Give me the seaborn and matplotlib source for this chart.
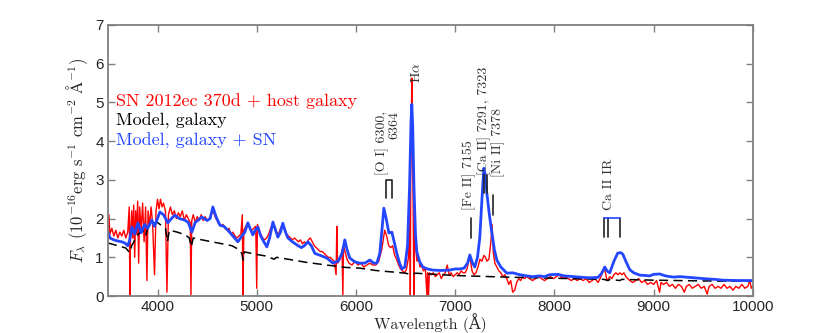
import numpy as np
import pandas as pd
import seaborn as sns
import matplotlib
matplotlib.use('Agg')
import matplotlib.pyplot as plt

obs_wave = [3500, 3510, 3520, 3540, 3560, 3580, 3600, 3620, 3640, 3660, 3680, 3700, 3715, 3722, 3728,
            3740, 3750, 3760, 3770, 3780, 3790, 3800, 3810, 3820, 3835, 3850, 3865, 3880, 3893, 3905,
            3920, 3935, 3950, 3970, 3985, 4000, 4015, 4030, 4045, 4060, 4080, 4095, 4110, 4130, 4150,
            4170, 4190, 4210, 4230, 4250, 4270, 4290, 4310, 4330, 4337, 4345, 4360, 4380, 4400, 4420,
            4440, 4460, 4480, 4500, 4520, 4540, 4560, 4580, 4600, 4620, 4640, 4660, 4680, 4700, 4720,
            4740, 4760, 4780, 4800, 4820, 4840, 4855, 4861, 4870, 4890, 4910, 4930, 4950, 4970, 4990,
            5000, 5007, 5020, 5040, 5060, 5080, 5100, 5120, 5140, 5160, 5180, 5200, 5220, 5240, 5260,
            5280, 5300, 5320, 5340, 5360, 5380, 5400, 5420, 5440, 5460, 5480, 5500, 5520, 5540, 5560,
            5580, 5600, 5620, 5640, 5660, 5680, 5700, 5720, 5740, 5760, 5780, 5800, 5807, 5815, 5840,
            5860, 5868, 5875, 5890, 5910, 5930, 5960, 5990, 6020, 6050, 6080, 6110, 6140, 6170, 6200,
            6230, 6260, 6290, 6310, 6330, 6350, 6370, 6390, 6410, 6430, 6450, 6470, 6490, 6510, 6530,
            6545, 6548, 6552, 6558, 6563, 6568, 6575, 6584, 6590, 6600, 6615, 6630, 6645, 6660, 6680,
            6700, 6716, 6722, 6731, 6740, 6760, 6780, 6800, 6820, 6840, 6860, 6880, 6900, 6920, 6940,
            6960, 6980, 7000, 7020, 7040, 7060, 7080, 7100, 7120, 7140, 7155, 7170, 7190, 7210, 7230,
            7250, 7270, 7290, 7305, 7320, 7340, 7360, 7372, 7385, 7400, 7420, 7440, 7460, 7480, 7500,
            7520, 7540, 7560, 7580, 7600, 7620, 7640, 7660, 7680, 7700, 7720, 7750, 7780, 7810, 7840,
            7870, 7900, 7930, 7960, 7990, 8020, 8050, 8080, 8110, 8140, 8170, 8200, 8230, 8260, 8290,
            8320, 8350, 8380, 8410, 8440, 8470, 8500, 8515, 8530, 8545, 8560, 8580, 8600, 8620, 8640,
            8660, 8680, 8700, 8720, 8740, 8760, 8790, 8820, 8850, 8880, 8910, 8940, 8970, 9000, 9030,
            9060, 9075, 9100, 9130, 9160, 9190, 9220, 9250, 9280, 9310, 9330, 9360, 9390, 9420, 9450,
            9480, 9510, 9540, 9560, 9590, 9620, 9650, 9680, 9710, 9740, 9770, 9800, 9830, 9860, 9890,
            9920, 9950, 9970, 9985, 10000]
obs_flux = [1.75, 2.1, 1.6, 1.75, 1.55, 1.7, 1.5, 1.65, 1.55, 1.7, 1.5, 1.65, 2.3, 0.0, 1.6,
            2.2, 1.5, 2.35, 1.0, 2.2, 1.6, 2.45, 0.85, 2.3, 1.7, 2.4, 1.4, 2.3, 0.4, 2.2,
            1.8, 2.3, 1.9, 0.55, 2.2, 2.5, 2.25, 2.5, 2.3, 2.4, 2.2, 0.1, 2.1, 2.3, 2.1,
            2.2, 2.0, 2.15, 2.05, 2.2, 1.95, 2.1, 2.0, 1.9, 0.0, 1.95, 2.1, 1.9, 2.05, 1.95,
            2.1, 1.95, 2.05, 1.95, 2.0, 2.1, 2.2, 2.05, 1.95, 1.85, 1.8, 1.85, 1.75, 1.7, 1.75,
            1.6, 1.65, 1.55, 1.5, 1.55, 1.6, 2.1, 0.0, 1.7, 1.8, 1.9, 1.75, 1.7, 1.75, 1.8,
            0.2, 1.85, 1.75, 1.6, 1.5, 1.45, 1.5, 1.6, 1.75, 1.85, 1.8, 1.65, 1.6, 1.75, 1.85,
            1.75, 1.6, 1.55, 1.5, 1.45, 1.5, 1.45, 1.4, 1.45, 1.35, 1.4, 1.35, 1.45, 1.5, 1.4,
            1.3, 1.25, 1.2, 1.15, 1.15, 1.1, 1.05, 1.0, 1.0, 0.95, 0.9, 0.55, 1.8, 0.85, 0.95,
            1.2, 0.0, 1.3, 1.15, 0.95, 0.85, 0.8, 0.9, 0.8, 0.85, 0.75, 0.8, 0.85, 0.8, 0.8,
            0.9, 1.2, 1.7, 1.55, 1.3, 1.25, 1.3, 1.05, 0.95, 0.8, 0.7, 0.65, 0.6, 0.7, 1.0,
            2.5, 0.0, 3.0, 4.3, 5.63, 4.0, 2.8, 0.0, 1.8, 1.3, 0.9, 1.0, 0.75, 0.8, 0.65,
            0.7, 0.0, 0.6, 0.0, 0.6, 0.55, 0.6, 0.5, 0.55, 0.6, 0.45, 0.55, 0.6, 0.8, 0.55,
            0.6, 0.5, 0.55, 0.6, 0.55, 0.65, 0.6, 0.6, 0.7, 0.95, 0.9, 0.65, 0.55, 0.6, 0.75,
            0.95, 0.9, 1.05, 1.0, 0.9, 0.95, 1.4, 1.85, 1.1, 0.85, 0.75, 0.65, 0.6, 0.5, 0.55,
            0.45, 0.3, 0.4, 0.1, 0.15, 0.35, 0.45, 0.4, 0.5, 0.45, 0.5, 0.45, 0.4, 0.45, 0.5,
            0.45, 0.4, 0.45, 0.5, 0.45, 0.5, 0.55, 0.45, 0.5, 0.45, 0.4, 0.45, 0.4, 0.45, 0.4,
            0.45, 0.35, 0.4, 0.45, 0.35, 0.5, 0.72, 0.6, 0.4, 0.45, 0.5, 0.45, 0.55, 0.6, 0.55,
            0.6, 0.55, 0.6, 0.5, 0.45, 0.4, 0.35, 0.4, 0.45, 0.35, 0.4, 0.3, 0.35, 0.3, 0.4,
            0.1, 0.35, 0.3, 0.35, 0.25, 0.3, 0.2, 0.3, 0.25, 0.1, 0.25, 0.3, 0.2, 0.25, 0.3,
            0.2, 0.25, 0.05, 0.25, 0.3, 0.2, 0.25, 0.2, 0.3, 0.2, 0.25, 0.15, 0.25, 0.2, 0.3,
            0.2, 0.25, 0.4, 0.2, 0.25]

# galaxy model (dashed)
gal_wave = [3500, 3600, 3680, 3720, 3740, 3800, 3850, 3880, 3900, 3950, 3974, 4000, 4050, 4080, 4100,
            4120, 4200, 4280, 4320, 4340, 4360, 4450, 4550, 4650, 4750, 4820, 4850, 4862, 4875, 4950,
            5030, 5100, 5175, 5200, 5364, 5500, 5707, 5890, 6039, 6200, 6372, 6500, 6563, 6600, 7000,
            7500, 8000, 8500, 8540, 8560, 8660, 8680, 9000, 9500, 10000]
gal_flux = [1.37, 1.3, 1.24, 1.12, 1.3, 1.58, 1.7, 1.55, 1.75, 1.85, 1.89, 1.9, 1.8, 1.75, 1.4,
            1.7, 1.65, 1.58, 1.5, 1.27, 1.5, 1.45, 1.4, 1.35, 1.3, 1.2, 1.1, 0.93, 1.14, 1.1,
            1.06, 1.03, 0.95, 1.0, 0.93, 0.87, 0.8, 0.74, 0.72, 0.66, 0.62, 0.59, 0.55, 0.59, 0.53,
            0.49, 0.46, 0.43, 0.4, 0.43, 0.4, 0.43, 0.41, 0.39, 0.38]

# galaxy + SN model (blue)
mod_wave = [3500, 3520, 3560, 3600, 3640, 3670, 3700, 3720, 3742, 3770, 3802, 3835, 3870, 3900, 3943,
            3970, 4024, 4060, 4105, 4140, 4175, 4220, 4276, 4310, 4346, 4380, 4447, 4500, 4530, 4558,
            4590, 4629, 4670, 4709, 4760, 4810, 4850, 4880, 4911, 4940, 4961, 4985, 5012, 5040, 5072,
            5102, 5130, 5163, 5190, 5213, 5240, 5263, 5290, 5314, 5360, 5405, 5450, 5480, 5516, 5550,
            5586, 5640, 5707, 5767, 5820, 5860, 5888, 5910, 5938, 5990, 6039, 6090, 6140, 6180, 6211,
            6240, 6262, 6281, 6305, 6332, 6362, 6390, 6412, 6440, 6463, 6493, 6520, 6540, 6555, 6563,
            6572, 6585, 6600, 6613, 6640, 6674, 6720, 6775, 6850, 6946, 7000, 7047, 7090, 7125, 7148,
            7175, 7198, 7225, 7248, 7270, 7289, 7305, 7319, 7345, 7370, 7395, 7420, 7460, 7521, 7580,
            7652, 7720, 7783, 7850, 7900, 7950, 8035, 8100, 8200, 8287, 8350, 8438, 8475, 8508, 8530,
            8558, 8600, 8639, 8670, 8690, 8720, 8760, 8800, 8860, 8920, 8961, 9000, 9062, 9120, 9195,
            9270, 9360, 9450, 9550, 9620, 9700, 9850, 10000]
mod_flux = [1.65, 1.5, 1.45, 1.42, 1.4, 1.37, 1.3, 1.45, 1.78, 1.6, 1.89, 1.63, 1.85, 1.75, 1.96,
            1.8, 2.17, 2.1, 1.89, 2.0, 2.09, 2.0, 1.96, 1.9, 1.65, 1.9, 2.04, 1.95, 2.0, 2.3,
            2.05, 1.83, 1.8, 1.7, 1.55, 1.4, 1.55, 1.65, 1.89, 1.7, 1.58, 1.7, 1.78, 1.55, 1.4,
            1.27, 1.5, 1.91, 1.7, 1.52, 1.65, 1.88, 1.65, 1.5, 1.4, 1.32, 1.25, 1.3, 1.4, 1.3,
            1.1, 1.05, 0.98, 0.85, 0.9, 1.1, 1.45, 1.2, 0.98, 0.88, 0.85, 0.85, 0.93, 0.85, 0.85,
            1.1, 1.7, 2.27, 2.0, 1.63, 1.65, 1.35, 1.1, 0.85, 0.7, 0.75, 1.3, 2.8, 4.5, 4.95,
            4.4, 2.8, 1.6, 1.15, 0.9, 0.75, 0.7, 0.67, 0.66, 0.67, 0.7, 0.7, 0.72, 0.85, 1.06,
            0.85, 0.75, 1.0, 1.5, 2.5, 3.3, 3.1, 2.66, 2.1, 1.63, 1.2, 0.93, 0.75, 0.59, 0.6,
            0.55, 0.52, 0.5, 0.52, 0.5, 0.55, 0.56, 0.52, 0.5, 0.48, 0.47, 0.48, 0.58, 0.75, 0.65,
            0.6, 0.9, 1.11, 1.12, 1.08, 0.9, 0.68, 0.6, 0.54, 0.53, 0.52, 0.56, 0.57, 0.52, 0.49,
            0.5, 0.48, 0.46, 0.44, 0.43, 0.41, 0.4, 0.4]

# line identifications (rest wavelengths)
oi_lines = [6300, 6364]
feii_line = 7155
caii_lines = [7291, 7323]
niii_line = 7378
cair_lines = [8498, 8542, 8662]

obs = pd.DataFrame({'wave': obs_wave, 'flux': obs_flux})
gal = pd.DataFrame({'wave': gal_wave, 'flux': gal_flux})
mod = pd.DataFrame({'wave': mod_wave, 'flux': mod_flux})

sns.set_style('white')
plt.rcParams['font.family'] = ['cmr10', 'DejaVu Serif']
plt.rcParams['mathtext.fontset'] = 'cm'
plt.rcParams['axes.unicode_minus'] = False

fig = plt.figure(figsize=(8.3, 3.33), dpi=100)
ax = fig.add_axes([0.130, 0.111, 0.777, 0.814])

blue = '#2346ff'
sns.lineplot(data=obs, x='wave', y='flux', ax=ax, color='red', lw=1.0, sort=False, estimator=None)
sns.lineplot(data=gal, x='wave', y='flux', ax=ax, color='black', lw=1.1, ls=(0, (6, 3.5)), sort=False, estimator=None)
sns.lineplot(data=mod, x='wave', y='flux', ax=ax, color=blue, lw=2.0, sort=False, estimator=None)

ax.set_xlim(3500, 10000)
ax.set_ylim(0, 7)
ax.set_xticks(range(4000, 10001, 1000))
ax.set_yticks(range(0, 8))
for lab in ax.get_xticklabels() + ax.get_yticklabels():
    lab.set_fontfamily('Liberation Sans')
    lab.set_fontsize(11)
ax.tick_params(direction='in', length=5, width=1, color='#808080', top=True, right=True,
               bottom=True, left=True, pad=3)
for sp in ax.spines.values():
    sp.set_color('#808080')
    sp.set_linewidth(1.3)

ax.set_xlabel('Wavelength (Å)', fontsize=11.5, labelpad=-1)
ax.set_ylabel(r'$F_\lambda$ (10$^{-16}$erg s$^{-1}$ cm$^{-2}$ $\mathrm{\AA}^{-1}$)', fontsize=12, labelpad=4)

# legend as coloured text
ax.text(0.013, 5.04, 'SN 2012ec 370d + host galaxy', color='red', fontsize=13, va='center',
        transform=ax.get_yaxis_transform())
ax.text(0.013, 4.52, 'Model, galaxy', color='black', fontsize=13, va='center',
        transform=ax.get_yaxis_transform())
ax.text(0.013, 4.0, 'Model, galaxy + SN', color=blue, fontsize=13, va='center',
        transform=ax.get_yaxis_transform())

# line markers
lc = '#222222'
ax.plot([oi_lines[0], oi_lines[0], oi_lines[1], oi_lines[1]], [2.53, 3.0, 3.0, 2.53], color=lc, lw=1.2)
ax.plot([feii_line, feii_line], [1.5, 2.02], color=lc, lw=1.2)
for w in caii_lines:
    ax.plot([w, w], [2.66, 3.13], color=lc, lw=1.2)
ax.plot([niii_line, niii_line], [2.09, 2.6], color=lc, lw=1.2)
for w in cair_lines:
    ax.plot([w, w], [1.52, 2.02], color=lc, lw=1.2)
ax.plot([cair_lines[0], cair_lines[-1]], [2.02, 2.02], color=blue, lw=1.2)

tk = dict(rotation=90, fontsize=10, ha='center', va='bottom', color='#333333')
ax.text(6325, 3.13, '[O I] 6300,\n6364', multialignment='right', linespacing=0.9, **tk)
ax.text(6614, 5.5, r'H$\alpha$', **tk)
ax.text(7145, 2.22, '[Fe II] 7155', **tk)
ax.text(7290, 3.13, '[Ca II] 7291, 7323', **tk)
ax.text(7430, 3.07, '[Ni II] 7378', **tk)
ax.text(8550, 2.22, 'Ca II IR', **tk)

fig.savefig('out.png', dpi=100)
